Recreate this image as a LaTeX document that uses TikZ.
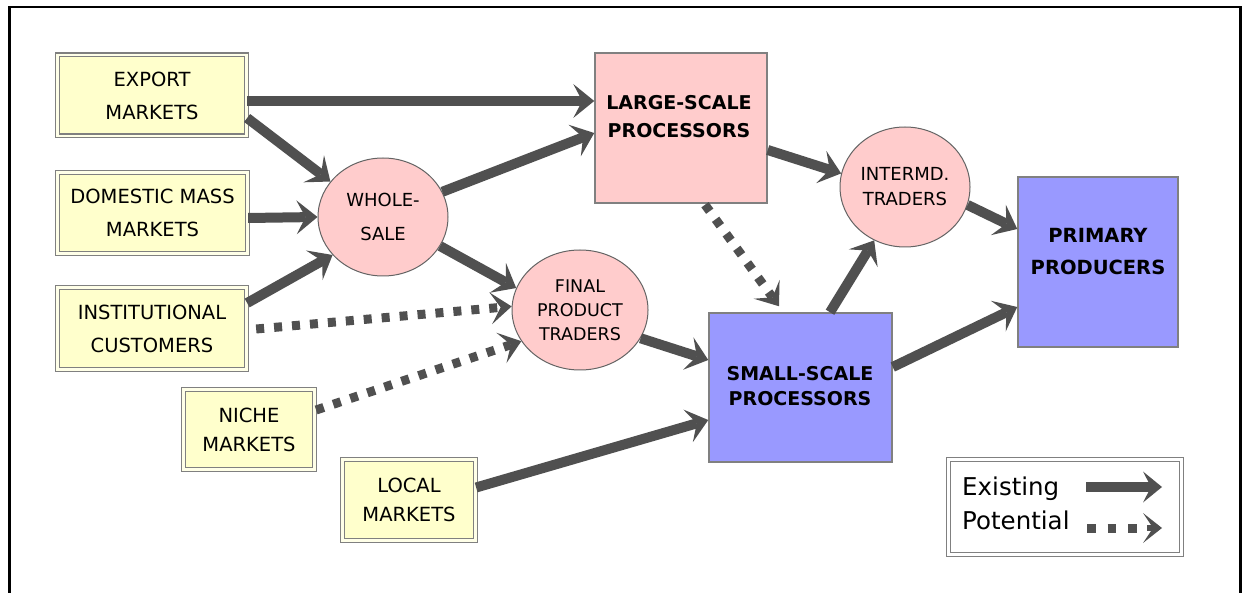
\documentclass[tikz,border=0pt]{standalone}
\usepackage{fontspec}
\setmainfont{DejaVu Sans}
\usetikzlibrary{arrows.meta,shapes.geometric,calc}
\definecolor{arrowgray}{RGB}{80,80,80}
\definecolor{bordergray}{RGB}{128,128,128}
\definecolor{ellgray}{RGB}{100,100,100}
\definecolor{mktyellow}{RGB}{255,255,204}
\definecolor{mktgap}{RGB}{255,255,232}
\definecolor{tradepink}{RGB}{255,204,204}
\definecolor{procblue}{RGB}{153,153,255}
\tikzset{
  mkt/.style={rectangle, draw=bordergray, line width=1.3pt, double=mktgap, double distance=2.4pt,
    fill=mktyellow, align=center, font=\fontsize{19.5}{33}\selectfont},
  trader/.style={ellipse, draw=ellgray, line width=1pt, fill=tradepink, inner sep=0pt, align=center},
  procbox/.style={rectangle, draw=bordergray, line width=1.5pt},
  proctext/.style={align=center, inner sep=0pt, font=\bfseries\fontsize{19}{28}\selectfont},
  flow/.style={line width=10pt, draw=arrowgray, -{Stealth[length=21pt,width=34pt,inset=9pt,line width=0pt]}},
  potflow/.style={line width=9pt, draw=arrowgray, dash pattern=on 8pt off 10pt, -{Stealth[length=21pt,width=32pt,inset=10pt,line width=0pt]}},
  legbox/.style={rectangle, draw=bordergray, line width=1.3pt, double=white, double distance=2.4pt, fill=white},
  legtext/.style={anchor=base west, inner sep=0pt, font=\fontsize{24.5}{30}\selectfont}
}
\begin{document}
\begin{tikzpicture}[x=1pt,y=-1pt]
\useasboundingbox (0,0) rectangle (1245,593);
\fill[white] (0,0) rectangle (1245,593);
% frame
\draw[line width=2.8pt] (9.5,593) -- (9.5,7) -- (1240.5,7) -- (1240.5,593);

% market boxes
\node[mkt, minimum width=189, minimum height=81] (exp) at (152,95.5) {EXPORT\\MARKETS};
\node[mkt, minimum width=190, minimum height=81] (dom) at (152.5,213) {DOMESTIC MASS\\MARKETS};
\node[mkt, minimum width=189, minimum height=82] (inst) at (152,328.5) {INSTITUTIONAL\\CUSTOMERS};
\node[mkt, minimum width=131, minimum height=80, font=\fontsize{19.5}{29}\selectfont] (niche) at (249,429.5) {NICHE\\MARKETS};
\node[mkt, minimum width=133, minimum height=81, font=\fontsize{19.5}{29}\selectfont] (local) at (409,500) {LOCAL\\MARKETS};

% traders
\node[trader, minimum width=130, minimum height=118, font=\fontsize{18}{34}\selectfont] (whole) at (383,217) {WHOLE-\\SALE};
\node[trader, minimum width=136, minimum height=120, font=\fontsize{17.5}{24}\selectfont] (final) at (580,310) {FINAL\\PRODUCT\\TRADERS};
\node[trader, minimum width=130, minimum height=120, font=\fontsize{18}{25}\selectfont] (inter) at (905,187) {INTERMD.\\TRADERS};

% processors and producers
\node[procbox, fill=tradepink, minimum width=172, minimum height=150] (large) at (681,128) {};
\node[proctext] (largetxt) at (679,117) {LARGE-SCALE\\PROCESSORS};
\node[procbox, fill=procblue, minimum width=183, minimum height=149] (small) at (800.5,387.5) {};
\node[proctext, font=\bfseries\fontsize{19}{25}\selectfont] (smalltxt) at (800,386) {SMALL-SCALE\\PROCESSORS};
\node[procbox, fill=procblue, minimum width=160, minimum height=170] (prim) at (1098,262) {};
\node[proctext, font=\bfseries\fontsize{19.5}{32}\selectfont] (primtxt) at (1098,252) {PRIMARY\\PRODUCERS};

% connectors
\draw[flow] ($(exp.east)+(0,5.5)$) -- ($(large.west)+(0,-27)$);
\draw[flow] ($(exp.east)+(0,22.5)$) -- (whole.146);
\draw[flow] ($(dom.east)+(0,5)$) -- (whole.180);
\draw[flow] ($(inst.east)+(0,-25.5)$) -- (whole.217);
\draw[flow] (whole.23) -- ($(large.west)+(0,5)$);
\draw[flow] (whole.333) -- (final.161);
\draw[potflow] ($(inst.east)+(9,0.5)$) -- (final.177);
\draw[potflow] ($(niche.east)+(1,-19.5)$) -- (final.208);
\draw[potflow] ($(large.south)+(24,1)$) -- ($(small.north)+(-21.5,-6)$);
\draw[flow] (final.335) -- ($(small.west)+(0,-27.5)$);
\draw[flow] ($(local.east)+(0,-12.5)$) -- ($(small.west)+(0,32.5)$);
\draw[flow] ($(large.east)+(0,22)$) -- (inter.168);
\draw[flow] ($(small.north)+(29.5,0)$) -- (inter.240);
\draw[flow] (inter.344) -- ($(prim.west)+(0,-33)$);
\draw[flow] ($(small.east)+(0,-20.5)$) -- ($(prim.west)+(0,45)$);

% legend
\node[legbox, minimum width=233, minimum height=95] (legend) at (1065,507) {};
\node[legtext] (ltexist) at (962,495) {Existing};
\node[legtext] (ltpot) at (962,529) {Potential};
\coordinate (e1) at (1086,487);
\coordinate (e2) at (1162,487);
\coordinate (p1) at (1087,528);
\coordinate (p3) at (1137,528);
\coordinate (p4) at (1147,528);
\coordinate (p2) at (1162,528);
\draw[flow, -{Stealth[length=19pt,width=31pt,inset=8pt,line width=0pt]}] (e1) -- (e2);
\draw[line width=9pt, draw=arrowgray, dash pattern=on 8.5pt off 12pt] (p1) -- (p3);
\draw[line width=6pt, draw=arrowgray, -{Stealth[length=19pt,width=30pt,inset=10pt,line width=0pt]}] (p4) -- (p2);
\end{tikzpicture}
\end{document}
